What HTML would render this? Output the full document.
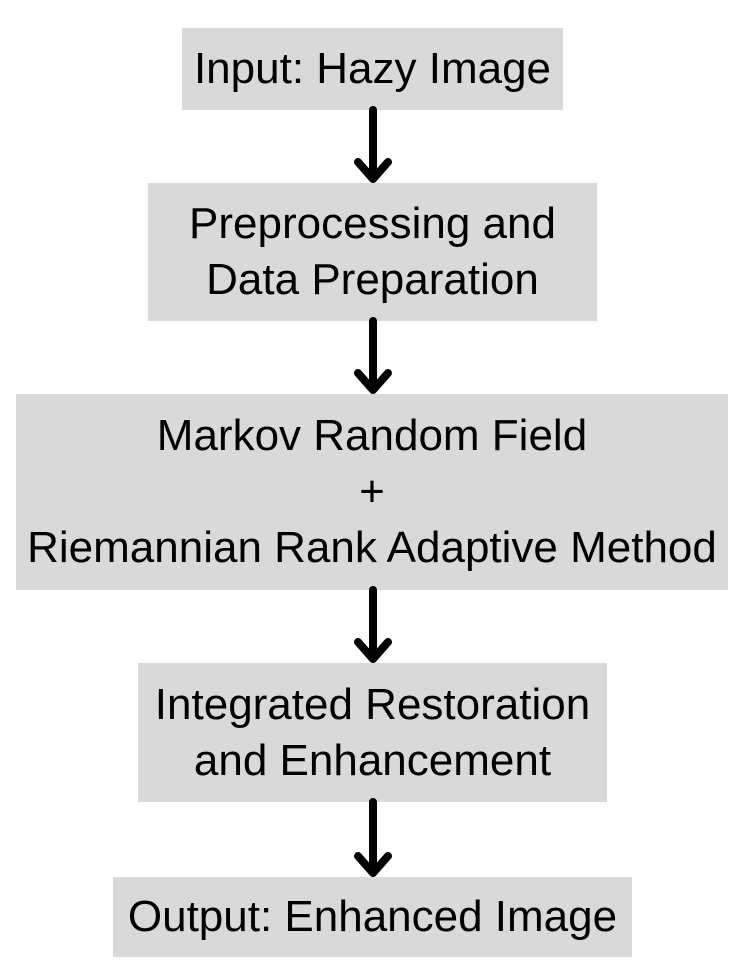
<!DOCTYPE html>
<html><head><style>
body{margin:0;width:750px;height:978px;background:#fff;position:relative;font-family:"Liberation Sans",sans-serif;overflow:hidden}
.b{position:absolute;background:#d9d9d9;color:#000;display:flex;align-items:center;justify-content:center;text-align:center;font-size:44px;line-height:56px;white-space:nowrap}
svg{position:absolute;left:0;top:0}
</style></head><body>
<div class="b" style="left:182px;top:28px;width:381px;height:82px">Input: Hazy Image</div>
<div class="b" style="left:148px;top:183px;width:449px;height:138px">Preprocessing and<br>Data Preparation</div>
<div class="b" style="left:16px;top:394px;width:712px;height:196px">Markov Random Field<br>+<br>Riemannian Rank Adaptive Method</div>
<div class="b" style="left:138px;top:663px;width:469px;height:139px">Integrated Restoration<br>and Enhancement</div>
<div class="b" style="left:113px;top:877px;width:519px;height:80px">Output: Enhanced Image</div>
<svg width="750" height="978">
<g stroke="#000" stroke-width="8" fill="none" stroke-linecap="round" stroke-linejoin="round">
<path d="M373 110V178M358 162L373 179L388 162"/>
<path d="M373 321V389M358 373L373 390L388 373"/>
<path d="M373 590V658M358 642L373 659L388 642"/>
<path d="M373 802V872M358 856L373 873L388 856"/>
</g></svg>
</body></html>
